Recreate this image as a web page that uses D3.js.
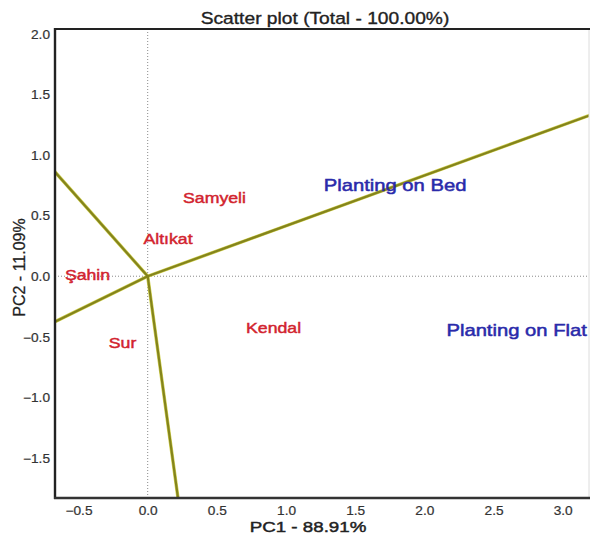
<!DOCTYPE html>
<html>
<head>
<meta charset="utf-8">
<script src="https://cdn.jsdelivr.net/npm/d3@7"></script>
<style>
  html, body { margin: 0; padding: 0; background: #fff; }
  svg { display: block; font-family: "Liberation Sans", Arial, sans-serif; }
</style>
</head>
<body>
<svg id="chart" width="590" height="535"></svg>
<script>
// ---- data ----
const genotypes = ["Samyeli", "Altıkat", "Şahin", "Sur", "Kendal"];
const genoX = [0.483, 0.147, -0.435, -0.182, 0.91];
const genoY = [0.645, 0.307, 0.01, -0.55, -0.423];

const environments = ["Planting on Bed", "Planting on Flat"];
const envX = [1.788, 2.667];
const envY = [0.757, -0.444];

// vector end points (origin at 0,0), clipped at plot borders
const vecX = [-0.67, -0.67, 3.2, 0.219];
const vecY = [0.86, -0.375, 1.33, -1.83];

const xTicks = [-0.5, 0.0, 0.5, 1.0, 1.5, 2.0, 2.5, 3.0];
const yTicks = [-1.5, -1.0, -0.5, 0.0, 0.5, 1.0, 1.5, 2.0];

const titleText = "Scatter plot (Total - 100.00%)";
const xTitle = "PC1 - 88.91%";
const yTitle = "PC2 - 11.09%";

// ---- layout ----
const svg = d3.select("#chart");
const L = 55, R = 589, T = 29, B = 498;
const x = d3.scaleLinear().domain([-0.67, 3.19]).range([L, R]);
const y = d3.scaleLinear().domain([-1.83, 2.04]).range([B, T]);

svg.append("defs").append("clipPath").attr("id", "clip")
  .append("rect").attr("x", L).attr("y", T).attr("width", R - L).attr("height", B - T);

// zero lines
svg.append("line").attr("x1", x(0)).attr("x2", x(0)).attr("y1", T).attr("y2", B)
  .attr("stroke", "#8a8a8a").attr("stroke-width", 1).attr("stroke-dasharray", "1,2");
svg.append("line").attr("x1", L).attr("x2", R).attr("y1", y(0)).attr("y2", y(0))
  .attr("stroke", "#8a8a8a").attr("stroke-width", 1).attr("stroke-dasharray", "1,2");

// vectors
const g = svg.append("g").attr("clip-path", "url(#clip)");
const vecs = vecX.map((d, i) => [d, vecY[i]]);
g.selectAll("line.vec").data(vecs).join("line")
  .attr("class", "vec")
  .attr("x1", x(0)).attr("y1", y(0))
  .attr("x2", d => x(d[0])).attr("y2", d => y(d[1]))
  .attr("stroke", "#d0d050").attr("stroke-width", 3.4).attr("stroke-linecap", "round");
g.selectAll("line.vec2").data(vecs).join("line")
  .attr("class", "vec2")
  .attr("x1", x(0)).attr("y1", y(0))
  .attr("x2", d => x(d[0])).attr("y2", d => y(d[1]))
  .attr("stroke", "#84841c").attr("stroke-width", 2.2).attr("stroke-linecap", "round");

// labels (regular face with a thin outline for a medium weight)
function stretchedText(sel, px, py, txt, size, color, sx, sw) {
  sel.append("text")
    .attr("transform", `translate(${px},${py}) scale(${sx},1)`)
    .attr("text-anchor", "middle")
    .attr("font-size", size)
    .attr("fill", color)
    .attr("stroke", color)
    .attr("stroke-width", sw)
    .text(txt);
}
genotypes.forEach((name, i) => {
  stretchedText(svg, x(genoX[i]), y(genoY[i]) + 5.3, name, 15, "#d2232e", 1.18, 0.45);
});
environments.forEach((name, i) => {
  stretchedText(svg, x(envX[i]), y(envY[i]) + 6.2, name, 17, "#2a2aaa", 1.19, 0.5);
});

// frame
svg.append("line").attr("x1", R).attr("x2", R).attr("y1", T).attr("y2", B)
  .attr("stroke", "#dcdcdc").attr("stroke-width", 1);
svg.append("line").attr("x1", L).attr("x2", 590).attr("y1", T).attr("y2", T)
  .attr("stroke", "#222").attr("stroke-width", 2);
svg.append("line").attr("x1", L).attr("x2", L).attr("y1", T - 1).attr("y2", B + 1)
  .attr("stroke", "#222").attr("stroke-width", 2.4);
svg.append("line").attr("x1", L - 1).attr("x2", 590).attr("y1", B).attr("y2", B)
  .attr("stroke", "#333").attr("stroke-width", 2.4);

// axes (no tick marks)
const xAxis = svg.append("g").attr("transform", `translate(0,${B})`)
  .call(d3.axisBottom(x).tickValues(xTicks).tickFormat(d3.format(".1f")).tickSize(0).tickPadding(0));
xAxis.select(".domain").remove();
xAxis.selectAll("text")
  .attr("y", 0).attr("dy", 0)
  .attr("transform", `translate(0,16.5) scale(1.14,1)`)
  .attr("font-size", 12).attr("fill", "#333")
  .attr("stroke", "#333").attr("stroke-width", 0.2)
  .attr("font-family", '"Liberation Sans", Arial, sans-serif');

const yAxis = svg.append("g").attr("transform", `translate(${L - 5},0)`)
  .call(d3.axisLeft(y).tickValues(yTicks).tickFormat(d3.format(".1f")).tickSize(0).tickPadding(0));
yAxis.select(".domain").remove();
yAxis.selectAll("text")
  .attr("x", 0).attr("dy", "0.35em")
  .attr("transform", `scale(1.14,1)`)
  .attr("font-size", 12).attr("fill", "#333")
  .attr("stroke", "#333").attr("stroke-width", 0.2)
  .attr("font-family", '"Liberation Sans", Arial, sans-serif');

// titles
stretchedText(svg, 325, 24, titleText, 17, "#222", 1.13, 0.35);
stretchedText(svg, 308, 531.5, xTitle, 15, "#222", 1.25, 0.45);
svg.append("text")
  .attr("transform", "translate(25,267.5) rotate(-90)")
  .attr("text-anchor", "middle")
  .attr("font-size", 16).attr("fill", "#222")
  .attr("stroke", "#222").attr("stroke-width", 0.25)
  .text(yTitle);
</script>
</body>
</html>
